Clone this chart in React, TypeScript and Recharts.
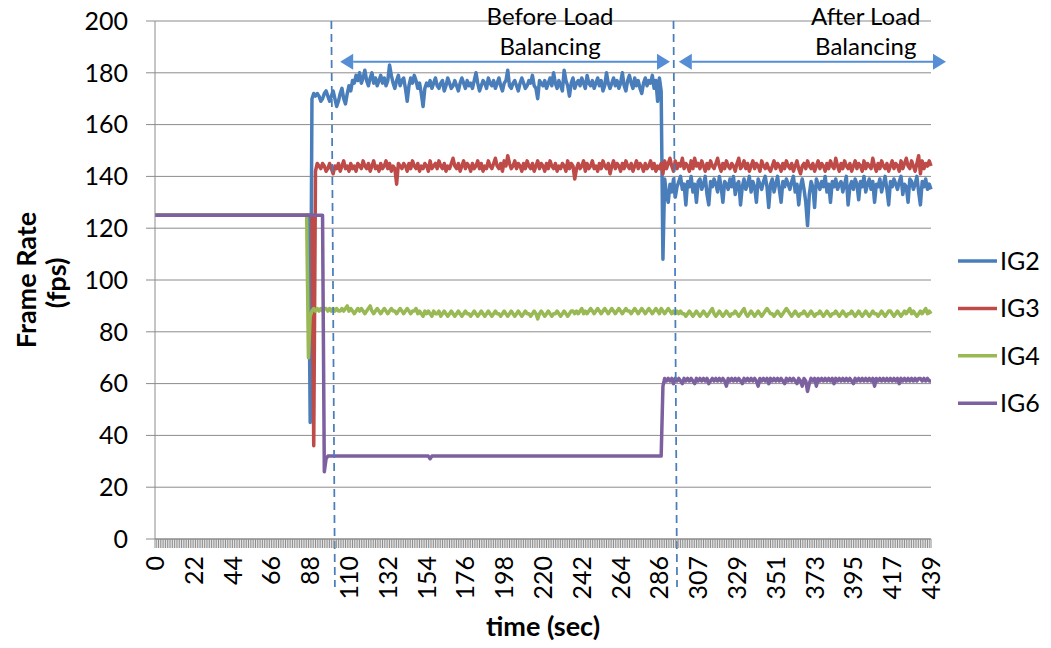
import { CartesianGrid, Legend, Line, LineChart, ReferenceDot, ReferenceLine, XAxis, YAxis } from "recharts";

// frame rate (fps) per sample
const IG2 = [
  125, 125, 125, 125, 125, 125, 125, 125, 125, 125,
  125, 125, 125, 125, 125, 125, 125, 125, 125, 125,
  125, 125, 125, 125, 125, 125, 125, 125, 125, 125,
  125, 125, 125, 125, 125, 125, 125, 125, 125, 125,
  125, 125, 125, 125, 125, 125, 125, 125, 125, 125,
  125, 125, 125, 125, 125, 125, 125, 125, 125, 125,
  125, 125, 125, 125, 125, 125, 125, 125, 125, 125,
  125, 125, 125, 125, 125, 125, 125, 125, 125, 125,
  125, 125, 125, 125, 125, 125, 125, 125, 45, 170,
  172, 171, 172, 171, 169, 170, 172, 173, 171, 169,
  171, 173, 170, 167, 169, 172, 174, 170, 168, 172,
  175, 173, 177, 176, 179, 177, 180, 176, 178, 181,
  177, 175, 178, 180, 176, 178, 175, 177, 179, 176,
  178, 175, 177, 183, 179, 176, 174, 177, 179, 175,
  177, 178, 174, 169, 175, 178, 176, 179, 177, 174,
  176, 172, 167, 174, 176, 175, 177, 174, 176, 178,
  175, 174, 176, 177, 173, 175, 178, 176, 174, 175,
  177, 175, 173, 176, 178, 176, 174, 177, 175, 176,
  174, 177, 180, 176, 173, 175, 177, 176, 174, 178,
  176, 175, 177, 174, 176, 178, 175, 173, 176, 177,
  181, 175, 174, 176, 177, 175, 173, 176, 178, 176,
  174, 175, 177, 176, 179, 175, 174, 170, 177, 176,
  175, 177, 174, 176, 178, 175, 180, 176, 174, 177,
  175, 173, 181, 177, 175, 171, 176, 178, 174, 176,
  177, 175, 178, 176, 174, 179, 176, 175, 177, 174,
  176, 178, 175, 177, 173, 175, 180, 176, 174, 176,
  178, 175, 177, 174, 176, 180, 175, 173, 177, 179,
  176, 174, 178, 175, 177, 174, 172, 176, 178, 175,
  177, 176, 179, 174, 177, 169, 178, 173, 108, 139,
  133, 130, 137, 134, 139, 132, 136, 138, 140, 135,
  137, 129, 138, 136, 140, 134, 137, 130, 138, 139,
  135, 137, 140, 133, 129, 138, 136, 139, 137, 134,
  140, 136, 130, 138, 137, 135, 139, 136, 140, 133,
  137, 138, 129, 136, 139, 135, 137, 140, 134, 138,
  136, 130, 139, 137, 135, 138, 140, 136, 128, 137,
  139, 134, 137, 140, 135, 130, 138, 136, 139, 137,
  135, 138, 140, 134, 137, 129, 136, 139, 135, 130,
  121, 133, 138, 136, 128, 139, 137, 135, 138, 136,
  140, 134, 137, 130, 138, 136, 139, 135, 137, 138,
  134, 137, 140, 129, 136, 138, 135, 139, 137, 131,
  138, 136, 140, 134, 137, 139, 135, 138, 130, 137,
  136, 139, 134, 137, 140, 135, 129, 138, 136, 139,
  137, 135, 138, 140, 133, 137, 136, 130, 139, 138,
  135, 137, 140, 134, 129, 138, 136, 139, 135, 137,
  135,
];

const IG3 = [
  125, 125, 125, 125, 125, 125, 125, 125, 125, 125,
  125, 125, 125, 125, 125, 125, 125, 125, 125, 125,
  125, 125, 125, 125, 125, 125, 125, 125, 125, 125,
  125, 125, 125, 125, 125, 125, 125, 125, 125, 125,
  125, 125, 125, 125, 125, 125, 125, 125, 125, 125,
  125, 125, 125, 125, 125, 125, 125, 125, 125, 125,
  125, 125, 125, 125, 125, 125, 125, 125, 125, 125,
  125, 125, 125, 125, 125, 125, 125, 125, 125, 125,
  125, 125, 125, 125, 125, 125, 125, 125, 125, 125,
  36, 142, 145, 144, 143, 145, 144, 142, 143, 145,
  143, 141, 144, 143, 145, 142, 144, 146, 143, 144,
  142, 145, 143, 144, 142, 145, 144, 143, 146, 144,
  143, 145, 142, 144, 146, 143, 144, 142, 145, 143,
  144, 146, 143, 145, 142, 144, 143, 137, 145, 144,
  143, 145, 144, 142, 145, 143, 146, 144, 143, 145,
  142, 144, 143, 145, 144, 142, 146, 143, 144, 145,
  143, 146, 144, 143, 145, 142, 144, 143, 145, 147,
  144, 143, 145, 142, 144, 146, 143, 145, 144, 142,
  145, 143, 144, 146, 143, 145, 142, 144, 143, 146,
  144, 143, 145, 147, 144, 143, 145, 142, 146, 144,
  148, 145, 143, 144, 146, 143, 145, 144, 142, 145,
  143, 146, 144, 143, 145, 142, 144, 146, 143, 145,
  144, 142, 145, 143, 146, 144, 143, 145, 142, 144,
  143, 145, 144, 142, 146, 143, 145, 144, 139, 143,
  145, 143, 144, 146, 142, 145, 143, 144, 146, 143,
  144, 142, 145, 143, 146, 144, 143, 145, 141, 144,
  146, 143, 145, 144, 142, 145, 143, 146, 144, 143,
  145, 142, 144, 146, 143, 145, 144, 142, 145, 143,
  144, 146, 143, 145, 142, 144, 143, 145, 141, 146,
  143, 145, 147, 144, 142, 146, 143, 145, 144, 147,
  143, 145, 144, 142, 146, 143, 147, 144, 145, 143,
  146, 144, 142, 145, 143, 146, 144, 143, 145, 147,
  144, 142, 145, 143, 146, 144, 143, 145, 144, 142,
  145, 147, 143, 144, 146, 143, 145, 142, 144, 146,
  143, 145, 144, 142, 146, 144, 143, 145, 143, 142,
  144, 146, 143, 145, 144, 142, 145, 143, 146, 144,
  143, 145, 142, 144, 146, 143, 141, 144, 145, 143,
  146, 144, 143, 145, 142, 144, 146, 143, 145, 144,
  142, 145, 143, 146, 144, 143, 147, 144, 142, 145,
  143, 146, 144, 143, 145, 142, 144, 146, 143, 145,
  144, 142, 146, 143, 145, 144, 143, 147, 144, 142,
  145, 143, 146, 144, 143, 145, 142, 144, 146, 143,
  145, 144, 142, 146, 143, 145, 147, 144, 143, 146,
  144, 142, 145, 148, 141, 146, 143, 145, 144, 146,
  144,
];

const IG4 = [
  125, 125, 125, 125, 125, 125, 125, 125, 125, 125,
  125, 125, 125, 125, 125, 125, 125, 125, 125, 125,
  125, 125, 125, 125, 125, 125, 125, 125, 125, 125,
  125, 125, 125, 125, 125, 125, 125, 125, 125, 125,
  125, 125, 125, 125, 125, 125, 125, 125, 125, 125,
  125, 125, 125, 125, 125, 125, 125, 125, 125, 125,
  125, 125, 125, 125, 125, 125, 125, 125, 125, 125,
  125, 125, 125, 125, 125, 125, 125, 125, 125, 125,
  125, 125, 125, 125, 125, 125, 125, 70, 86, 88,
  89, 88, 89, 88, 89, 88, 89, 89, 88, 89,
  88, 89, 88, 89, 88, 88, 89, 88, 89, 90,
  88, 89, 88, 87, 88, 89, 88, 89, 88, 87,
  88, 89, 90, 88, 87, 88, 89, 88, 87, 88,
  89, 88, 87, 88, 89, 88, 88, 87, 88, 89,
  88, 87, 88, 89, 88, 87, 88, 88, 89, 87,
  88, 87, 86, 88, 87, 88, 87, 86, 88, 87,
  87, 88, 86, 87, 88, 87, 86, 87, 88, 87,
  86, 87, 88, 87, 86, 87, 88, 87, 87, 86,
  87, 88, 87, 86, 87, 88, 87, 86, 87, 88,
  87, 86, 87, 88, 87, 87, 86, 87, 88, 87,
  86, 87, 88, 87, 86, 87, 88, 87, 86, 87,
  88, 87, 87, 86, 87, 88, 87, 85, 87, 88,
  87, 86, 87, 88, 87, 86, 87, 87, 88, 87,
  86, 87, 88, 87, 86, 87, 88, 88, 87, 88,
  87, 88, 89, 87, 88, 87, 88, 89, 88, 87,
  88, 89, 88, 87, 88, 89, 88, 87, 88, 89,
  88, 87, 88, 89, 88, 87, 88, 89, 88, 88,
  87, 88, 89, 88, 87, 88, 89, 88, 87, 88,
  89, 88, 87, 88, 89, 88, 87, 89, 88, 87,
  88, 89, 88, 87, 88, 87, 88, 87, 88, 87,
  87, 86, 87, 88, 87, 86, 87, 88, 87, 86,
  87, 88, 87, 86, 87, 88, 89, 87, 86, 87,
  88, 87, 86, 87, 88, 87, 86, 87, 87, 88,
  87, 86, 87, 88, 89, 87, 86, 87, 88, 87,
  86, 87, 88, 87, 86, 87, 88, 89, 88, 87,
  87, 86, 87, 88, 87, 86, 87, 88, 89, 88,
  87, 86, 87, 88, 87, 86, 87, 87, 88, 87,
  86, 87, 88, 87, 86, 87, 87, 88, 87, 86,
  87, 88, 87, 86, 87, 87, 88, 87, 86, 87,
  88, 87, 86, 87, 87, 88, 87, 86, 87, 88,
  87, 86, 87, 88, 87, 86, 87, 88, 87, 87,
  86, 87, 88, 87, 86, 87, 88, 88, 87, 86,
  87, 88, 87, 86, 87, 88, 87, 88, 89, 87,
  88, 87, 86, 87, 88, 87, 88, 89, 87, 88,
  87,
];

const IG6 = [
  125, 125, 125, 125, 125, 125, 125, 125, 125, 125,
  125, 125, 125, 125, 125, 125, 125, 125, 125, 125,
  125, 125, 125, 125, 125, 125, 125, 125, 125, 125,
  125, 125, 125, 125, 125, 125, 125, 125, 125, 125,
  125, 125, 125, 125, 125, 125, 125, 125, 125, 125,
  125, 125, 125, 125, 125, 125, 125, 125, 125, 125,
  125, 125, 125, 125, 125, 125, 125, 125, 125, 125,
  125, 125, 125, 125, 125, 125, 125, 125, 125, 125,
  125, 125, 125, 125, 125, 125, 125, 125, 125, 125,
  125, 125, 125, 125, 125, 125, 26, 31, 32, 32,
  32, 32, 32, 32, 32, 32, 32, 32, 32, 32,
  32, 32, 32, 32, 32, 32, 32, 32, 32, 32,
  32, 32, 32, 32, 32, 32, 32, 32, 32, 32,
  32, 32, 32, 32, 32, 32, 32, 32, 32, 32,
  32, 32, 32, 32, 32, 32, 32, 32, 32, 32,
  32, 32, 32, 32, 32, 32, 31, 32, 32, 32,
  32, 32, 32, 32, 32, 32, 32, 32, 32, 32,
  32, 32, 32, 32, 32, 32, 32, 32, 32, 32,
  32, 32, 32, 32, 32, 32, 32, 32, 32, 32,
  32, 32, 32, 32, 32, 32, 32, 32, 32, 32,
  32, 32, 32, 32, 32, 32, 32, 32, 32, 32,
  32, 32, 32, 32, 32, 32, 32, 32, 32, 32,
  32, 32, 32, 32, 32, 32, 32, 32, 32, 32,
  32, 32, 32, 32, 32, 32, 32, 32, 32, 32,
  32, 32, 32, 32, 32, 32, 32, 32, 32, 32,
  32, 32, 32, 32, 32, 32, 32, 32, 32, 32,
  32, 32, 32, 32, 32, 32, 32, 32, 32, 32,
  32, 32, 32, 32, 32, 32, 32, 32, 32, 32,
  32, 32, 32, 32, 32, 32, 32, 32, 59, 62,
  61, 62, 61, 62, 60, 62, 61, 62, 61, 60,
  62, 61, 62, 61, 62, 61, 60, 62, 61, 62,
  61, 62, 61, 62, 60, 61, 62, 61, 62, 61,
  62, 61, 62, 61, 59, 62, 61, 62, 61, 62,
  61, 62, 61, 60, 62, 61, 62, 61, 62, 61,
  62, 61, 59, 62, 61, 62, 61, 62, 60, 62,
  61, 62, 61, 62, 61, 62, 61, 60, 62, 61,
  62, 61, 62, 61, 60, 62, 61, 59, 62, 61,
  57, 60, 62, 61, 62, 59, 62, 61, 62, 61,
  62, 61, 62, 61, 62, 60, 62, 61, 62, 61,
  62, 61, 62, 61, 62, 61, 60, 62, 61, 62,
  61, 62, 61, 62, 61, 62, 61, 62, 59, 62,
  61, 62, 61, 62, 61, 62, 61, 62, 61, 62,
  61, 62, 60, 62, 61, 62, 61, 62, 61, 62,
  61, 62, 61, 62, 62, 61, 62, 61, 62, 61,
  61,
];

// time (sec) label printed under every 22nd sample
const TICK_EVERY = 22;
const X_TICK_LABELS = [
  "0", "22", "44", "66", "88", "110", "132", "154", "176", "198", "220",
  "242", "264", "286", "307", "329", "351", "373", "395", "417", "439",
];
const Y_TICKS = [0, 20, 40, 60, 80, 100, 120, 140, 160, 180, 200];

const SERIES = [
  { key: "IG2", color: "#4a7ebb" },
  { key: "IG3", color: "#be4b48" },
  { key: "IG4", color: "#98b954" },
  { key: "IG6", color: "#7d60a0" },
];

// phase markers (sample index) and span arrows
const PHASE_LINES = [
  { top: 100, bottom: 102 },
  { top: 294, bottom: 296 },
];
const PHASE_ARROWS = [
  { from: 105, to: 292 },
  { from: 297, to: 448.5 },
];
const PHASE_LABELS = [
  { at: 224, lines: ["Before Load", "Balancing"] },
  { at: 403, lines: ["After Load", "Balancing"] },
];

const data = IG2.map((v, i) => ({
  sample: i,
  IG2: v,
  IG3: IG3[i],
  IG4: IG4[i],
  IG6: IG6[i],
}));
const SAMPLES = data.map((d) => d.sample);

const FONT = "Lato";
const GRID = "#8c8c8c";

function XTick(props: any) {
  const { x, y, payload } = props;
  const v = payload.value as number;
  if (v % TICK_EVERY !== 0) return <g />;
  return (
    <g transform={`translate(${x},${y + 8}) rotate(-90)`}>
      <text x={0} y={0} dy="0.36em" textAnchor="end" fontSize={25} fontFamily={FONT} fill="#000">
        {X_TICK_LABELS[v / TICK_EVERY]}
      </text>
    </g>
  );
}

function ArrowShape(props: any) {
  const { x1, y1, x2 } = props;
  const head = 13;
  const half = 8;
  const c = "#558ed5";
  return (
    <g>
      <line x1={x1 + head} y1={y1} x2={x2 - head} y2={y1} stroke={c} strokeWidth={2} />
      <polygon points={`${x1},${y1} ${x1 + head},${y1 - half} ${x1 + head},${y1 + half}`} fill={c} />
      <polygon points={`${x2},${y1} ${x2 - head},${y1 - half} ${x2 - head},${y1 + half}`} fill={c} />
    </g>
  );
}

function PhaseLabel(lines: string[]) {
  return (props: any) => (
    <text x={props.cx} y={props.cy} textAnchor="middle" fontSize={24} fontFamily={FONT} fill="#000">
      {lines.map((l, i) => (
        <tspan key={l} x={props.cx} dy={i === 0 ? 0 : 30}>
          {l}
        </tspan>
      ))}
    </text>
  );
}

function renderLegend(props: any) {
  const items = props.payload ?? [];
  return (
    <svg width={96} height={190} style={{ overflow: "visible" }}>
      {items.map((it: any, i: number) => {
        const cy = 31 + i * 47.4;
        return (
          <g key={it.value}>
            <line x1={3} x2={42} y1={cy} y2={cy} stroke={it.color} strokeWidth={3.5} />
            <text x={45} y={cy + 9} fontSize={25} fontFamily={FONT} fill="#000">
              {it.value}
            </text>
          </g>
        );
      })}
    </svg>
  );
}

export default function App() {
  return (
    <div style={{ position: "absolute", left: 0, top: 0, width: 1051, height: 648, background: "#fff" }}>
      <LineChart
        width={1051}
        height={648}
        data={data}
        margin={{ top: 21, right: 24, bottom: 0, left: 0 }}
      >
        <CartesianGrid vertical={false} stroke={GRID} strokeWidth={1} />
        <XAxis
          dataKey="sample"
          type="number"
          domain={[0, 440]}
          ticks={SAMPLES}
          interval={0}
          height={109}
          tickSize={9}
          tickMargin={0}
          tick={<XTick />}
          stroke={GRID}
          tickLine={{ stroke: GRID }}
        />
        <YAxis
          domain={[0, 200]}
          ticks={Y_TICKS}
          width={155}
          tickSize={9}
          tickMargin={18}
          stroke={GRID}
          tickLine={{ stroke: GRID }}
          tick={{ fill: "#000", fontSize: 25, fontFamily: FONT }}
        />
        <Legend
          layout="vertical"
          align="right"
          verticalAlign="middle"
          width={96}
          height={190}
          wrapperStyle={{ left: 955, top: 230 }}
          content={renderLegend}
        />
        {SERIES.map((s) => (
          <Line
            key={s.key}
            dataKey={s.key}
            name={s.key}
            type="linear"
            stroke={s.color}
            strokeWidth={3.5}
            strokeLinejoin="round"
            dot={false}
            isAnimationActive={false}
          />
        ))}
        {PHASE_LINES.map((p) => (
          <ReferenceLine
            key={p.top}
            segment={[
              { x: p.top, y: 200 },
              { x: p.bottom, y: -18.5 },
            ]}
            stroke="#4a7ebb"
            strokeWidth={1.75}
            strokeDasharray="8 5"
            ifOverflow="visible"
          />
        ))}
        {PHASE_ARROWS.map((a) => (
          <ReferenceLine
            key={a.from}
            segment={[
              { x: a.from, y: 184.3 },
              { x: a.to, y: 184.3 },
            ]}
            ifOverflow="visible"
            shape={ArrowShape}
          />
        ))}
        {PHASE_LABELS.map((l) => (
          <ReferenceDot
            key={l.at}
            x={l.at}
            y={198.5}
            ifOverflow="visible"
            shape={PhaseLabel(l.lines)}
          />
        ))}
      </LineChart>
      <svg
        width={1051}
        height={648}
        style={{ position: "absolute", left: 0, top: 0, pointerEvents: "none" }}
      >
        <g fontFamily={FONT} fontWeight="bold" fontSize={27} fill="#000">
          <text transform="translate(36,280) rotate(-90)" textAnchor="middle">
            Frame Rate
          </text>
          <text transform="translate(66,283) rotate(-90)" textAnchor="middle">
            (fps)
          </text>
          <text x={543} y={636} textAnchor="middle">
            time (sec)
          </text>
        </g>
      </svg>
    </div>
  );
}
